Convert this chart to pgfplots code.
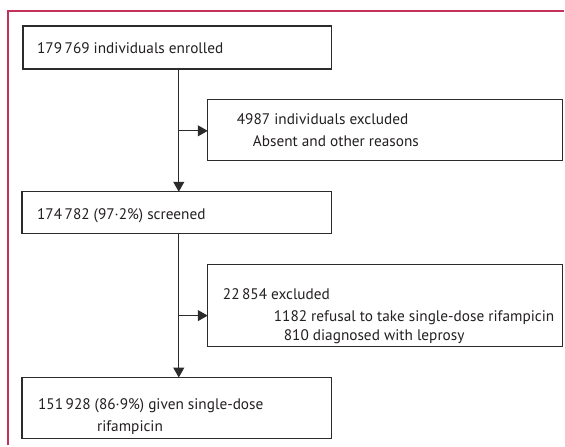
\documentclass[border=0pt]{standalone}
\usepackage{pgfplots}
\pgfplotsset{compat=1.18}
\usetikzlibrary{arrows.meta}
\usepackage{fontspec}
\setmainfont{PT Sans}
\definecolor{lancet}{HTML}{C4325C}
\definecolor{boxc}{HTML}{2B2B2B}
\definecolor{txt}{HTML}{231F20}
\begin{document}
\begin{tikzpicture}
\begin{axis}[scale only axis, width=565pt, height=447pt,
  xmin=0, xmax=565, ymin=0, ymax=447, y dir=reverse,
  hide axis, clip=false]
\path (0,0) rectangle (565,447);
% frame
\draw[lancet, line width=1.4pt] (8,446) -- (8,11) -- (565,11);
% boxes
\draw[boxc, line width=1.2pt] (23,26) rectangle (332,69);
\draw[boxc, line width=1.2pt] (208,100) rectangle (563,161);
\draw[boxc, line width=1.2pt] (22,192) rectangle (332,234);
\draw[boxc, line width=1.2pt] (208,265) rectangle (563,347);
\draw[boxc, line width=1.2pt] (22,378) rectangle (332,439);
% arrows
\draw[boxc, line width=1.2pt, -{Triangle[length=10pt,width=11pt]}] (179,69) -- (179,192);
\draw[boxc, line width=1.2pt, -{Triangle[length=10pt,width=11pt]}] (179,131) -- (208,131);
\draw[boxc, line width=1.2pt, -{Triangle[length=10pt,width=11pt]}] (179,234) -- (179,378);
\draw[boxc, line width=1.2pt, -{Triangle[length=10pt,width=11pt]}] (179,316) -- (208,316);
% texts
\tikzset{t/.style={anchor=base west, inner sep=0pt, text=txt, font=\fontsize{15.3}{18}\selectfont}}
\node[t] at (37,54) {179\,769 individuals enrolled};
\node[t] at (237,125) {4987 individuals excluded};
\node[t] at (253,147) {Absent and other reasons};
\node[t] at (37,220) {174\,782 (97·2\%) screened};
\node[t] at (223,300) {22\,854 excluded};
\node[t] at (274,322) {1182 refusal to take single-dose rifampicin};
\node[t] at (284,341) {810 diagnosed with leprosy};
\node[t] at (38,410) {151\,928 (86·9\%) given single-dose};
\node[t] at (97,432) {rifampicin};
\end{axis}
\end{tikzpicture}
\end{document}
